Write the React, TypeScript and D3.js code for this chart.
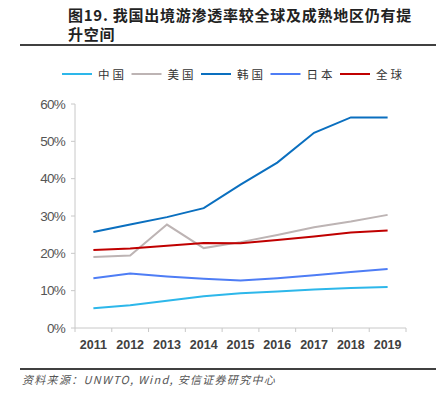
import React from "react";
import { scaleBand, scaleLinear, line } from "d3";

const years = ["2011", "2012", "2013", "2014", "2015", "2016", "2017", "2018", "2019"];
const china = [5.3, 6.1, 7.3, 8.5, 9.3, 9.8, 10.3, 10.7, 11.0];
const usa = [19.0, 19.4, 27.7, 21.4, 23.0, 24.9, 27.0, 28.5, 30.3];
const korea = [25.7, 27.7, 29.7, 32.1, 38.4, 44.3, 52.3, 56.4, 56.4];
const japan = [13.3, 14.6, 13.8, 13.2, 12.7, 13.3, 14.1, 15.0, 15.8];
const world = [20.9, 21.3, 22.0, 22.8, 22.7, 23.6, 24.5, 25.6, 26.1];
const yTicks = [0, 10, 20, 30, 40, 50, 60];

const series = [
  { name: "中国", values: china, color: "#2DB7EA" },
  { name: "美国", values: usa, color: "#BDB4B4" },
  { name: "韩国", values: korea, color: "#0A6FBF" },
  { name: "日本", values: japan, color: "#4E7DF5" },
  { name: "全球", values: world, color: "#C00000" },
];

const W = 448, H = 398;
const left = 75, right = 406, top = 104, bottom = 328;
const cjk = "'Noto Sans CJK SC', sans-serif";
const num = "'Liberation Sans', Arial, sans-serif";

export default function App() {
  const x = scaleBand().domain(years).range([left, right]);
  const y = scaleLinear().domain([0, 60]).range([bottom, top]);
  const gen = line<number>()
    .x((_, i) => x(years[i])! + x.bandwidth() / 2)
    .y(d => y(d));

  return (
    <svg width={W} height={H} style={{ position: "absolute", left: 0, top: 0, background: "#fff" }}>
      <text x={68} y={21} fontFamily={cjk} fontWeight="bold" fontSize="15" fill="#222" letterSpacing="0.75">
        图19. 我国出境游渗透率较全球及成熟地区仍有提
      </text>
      <text x={68} y={40} fontFamily={cjk} fontWeight="bold" fontSize="15" fill="#222" letterSpacing="0.75">
        升空间
      </text>
      <line x1={20} x2={436} y1={45} y2={45} stroke="#000" strokeWidth={1.5} />

      {series.map((s, i) => {
        const lx = 62 + i * 69.5;
        return (
          <g key={s.name}>
            <line x1={lx} x2={lx + 30} y1={74} y2={74} stroke={s.color} strokeWidth={2} />
            <text x={lx + 36} y={78.5} fontFamily={cjk} fontSize="11.5" fill="#333" letterSpacing="3">
              {s.name}
            </text>
          </g>
        );
      })}

      <line x1={left} x2={left} y1={top} y2={bottom} stroke="#C8C8C8" />
      {yTicks.map(t => (
        <g key={t}>
          <line x1={left - 4} x2={left} y1={y(t)} y2={y(t)} stroke="#C8C8C8" />
          <text x={65} y={y(t)} dy="0.35em" textAnchor="end" fontFamily={num} fontSize="13.5" fill="#555" letterSpacing="-0.8">
            {t}%
          </text>
        </g>
      ))}

      <line x1={left} x2={right} y1={bottom} y2={bottom} stroke="#C8C8C8" />
      {[...years.map(d => x(d)!), right].map((p, i) => (
        <line key={i} x1={p} x2={p} y1={bottom} y2={bottom + 4} stroke="#C8C8C8" />
      ))}
      {years.map(d => (
        <text key={d} x={x(d)! + x.bandwidth() / 2} y={349} textAnchor="middle" fontFamily={num} fontWeight="bold" fontSize="12.5" fill="#404040">
          {d}
        </text>
      ))}

      {series.map(s => (
        <path key={s.name} d={gen(s.values)!} fill="none" stroke={s.color} strokeWidth={2} />
      ))}

      <line x1={20} x2={436} y1={369} y2={369} stroke="#000" strokeWidth={1.5} />
      <text x={22} y={384} fontFamily={cjk} fontStyle="italic" fontSize="11" fill="#555" letterSpacing="1.3">
        资料来源：UNWTO, Wind, 安信证券研究中心
      </text>
    </svg>
  );
}
